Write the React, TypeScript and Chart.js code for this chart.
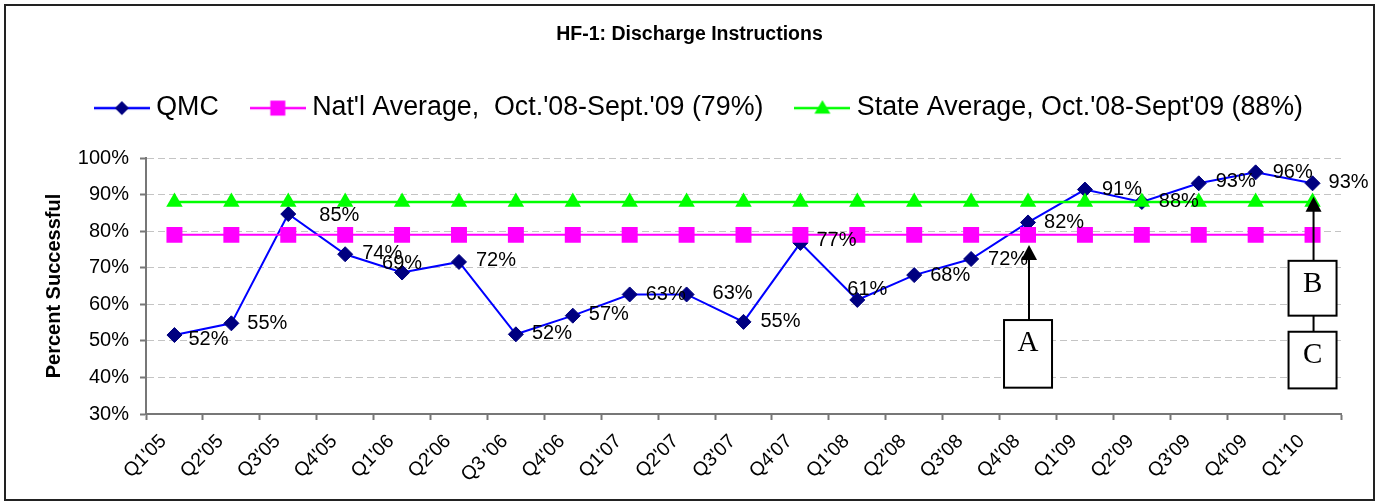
import React, { useEffect, useRef } from 'react';
import { Chart, registerables } from 'chart.js';

Chart.register(...registerables);

const FONT = "'Liberation Sans', Arial, Helvetica, sans-serif";
const SERIF = "'Liberation Serif', 'Times New Roman', serif";

const CATEGORIES = [
  "Q1'05", "Q2'05", "Q3'05", "Q4'05", "Q1'06", "Q2'06", "Q3 '06", "Q4'06",
  "Q1'07", "Q2'07", "Q3'07", "Q4'07", "Q1'08", "Q2'08", "Q3'08", "Q4'08",
  "Q1'09", "Q2'09", "Q3'09", "Q4'09", "Q1'10",
];

const QMC = [
  51.6, 54.8, 84.7, 73.7, 68.7, 71.6, 51.8, 56.9, 62.7, 62.7, 55.2,
  76.8, 61.2, 68.0, 72.4, 82.4, 91.4, 88.0, 93.1, 96.1, 93.1,
];
const NATL_AVG = [79, 79, 79, 79, 79, 79, 79, 79, 79, 79, 79, 79, 79, 79, 79, 79, 79, 79, 79, 79, 79];
const STATE_AVG = [88, 88, 88, 88, 88, 88, 88, 88, 88, 88, 88, 88, 88, 88, 88, 88, 88, 88, 88, 88, 88];

const SERIES_LABELS = [
  'QMC',
  "Nat'l Average,  Oct.'08-Sept.'09 (79%)",
  "State Average, Oct.'08-Sept'09 (88%)",
];

const Y_TICKS = [30, 40, 50, 60, 70, 80, 90, 100];

// label nudges (px) relative to each QMC point
const LABEL_NUDGE = [
  [14, 4], [16, 0], [31, 1], [17, -1], [-20, -9], [17, -1], [16, -1], [16, -1],
  [16, 0], [26, -1], [17, 0], [16, -2], [-10, -10], [16, 0], [17, 0], [16, 0],
  [17, 0], [17, 0], [17, -2], [17, 0], [16, -1],
];

// annotation arrows and boxes (in category index / percent units)
const ARROWS = [
  { index: 15, tip: 76.2, base: 55.7 },
  { index: 20, tip: 89.4, base: 71.9 },
];
const BOXES = [
  { letter: 'A', index: 15, top: 55.7, bottom: 37.2 },
  { letter: 'B', index: 20, top: 71.9, bottom: 56.9 },
  { letter: 'C', index: 20, top: 52.5, bottom: 37.0 },
];
const CONNECTORS = [{ index: 20, from: 56.9, to: 52.5 }];

function makeIcon(lineColor: string, markColor: string, shape: string) {
  const c = document.createElement('canvas');
  c.width = 56;
  c.height = 24;
  const g = c.getContext('2d')!;
  g.strokeStyle = lineColor;
  g.lineWidth = 2.5;
  g.beginPath();
  g.moveTo(0, 12);
  g.lineTo(56, 12);
  g.stroke();
  g.fillStyle = markColor;
  g.beginPath();
  if (shape === 'diamond') {
    g.moveTo(21, 12); g.lineTo(28, 5); g.lineTo(35, 12); g.lineTo(28, 19);
  } else if (shape === 'square') {
    g.rect(20.5, 4.5, 15, 15);
  } else {
    g.moveTo(28, 4); g.lineTo(36, 17.5); g.lineTo(20, 17.5);
  }
  g.closePath();
  g.fill();
  return c;
}

const backgroundPlugin = {
  id: 'bgFrame',
  beforeDraw(chart: any) {
    const ctx = chart.ctx;
    ctx.save();
    ctx.fillStyle = '#fff';
    ctx.fillRect(0, 0, chart.width, chart.height);
    ctx.strokeStyle = '#222';
    ctx.lineWidth = 2;
    ctx.strokeRect(5, 5, chart.width - 9, chart.height - 8);
    ctx.restore();
  },
};

const labelPlugin = {
  id: 'qmcLabels',
  afterDatasetsDraw(chart: any) {
    const meta = chart.getDatasetMeta(0);
    const ctx = chart.ctx;
    ctx.save();
    ctx.font = `20px ${FONT}`;
    ctx.fillStyle = '#000';
    ctx.textAlign = 'left';
    ctx.textBaseline = 'middle';
    meta.data.forEach((pt: any, i: number) => {
      const [dx, dy] = LABEL_NUDGE[i];
      ctx.fillText(`${Math.round(QMC[i])}%`, pt.x + dx, pt.y + dy);
    });
    ctx.restore();
  },
};

const annotationPlugin = {
  id: 'boxes',
  afterDatasetsDraw(chart: any) {
    const ctx = chart.ctx;
    const xs = chart.scales.x;
    const ys = chart.scales.y;
    ctx.save();
    ctx.strokeStyle = '#000';
    ctx.fillStyle = '#000';
    ctx.lineWidth = 2;
    ARROWS.forEach((a) => {
      const x = xs.getPixelForValue(a.index) + 1;
      const tip = ys.getPixelForValue(a.tip);
      const base = ys.getPixelForValue(a.base);
      ctx.beginPath();
      ctx.moveTo(x, base);
      ctx.lineTo(x, tip + 14);
      ctx.stroke();
      ctx.beginPath();
      ctx.moveTo(x, tip);
      ctx.lineTo(x + 8, tip + 15);
      ctx.lineTo(x - 8, tip + 15);
      ctx.closePath();
      ctx.fill();
    });
    CONNECTORS.forEach((c) => {
      const x = xs.getPixelForValue(c.index) + 1;
      ctx.beginPath();
      ctx.moveTo(x, ys.getPixelForValue(c.from));
      ctx.lineTo(x, ys.getPixelForValue(c.to));
      ctx.stroke();
    });
    BOXES.forEach((b) => {
      const cx = xs.getPixelForValue(b.index);
      const top = ys.getPixelForValue(b.top);
      const bottom = ys.getPixelForValue(b.bottom);
      ctx.fillStyle = '#fff';
      ctx.fillRect(cx - 24, top, 48, bottom - top);
      ctx.strokeRect(cx - 24, top, 48, bottom - top);
      ctx.fillStyle = '#000';
      ctx.font = `29px ${SERIF}`;
      ctx.textAlign = 'center';
      ctx.textBaseline = 'alphabetic';
      ctx.fillText(b.letter, cx, top + 31);
    });
    ctx.restore();
  },
};

export default function App() {
  const ref = useRef<HTMLCanvasElement | null>(null);

  useEffect(() => {
    const canvas = ref.current;
    if (!canvas) return;
    const icons = [
      makeIcon('#0000FF', '#000080', 'diamond'),
      makeIcon('#FF00FF', '#FF00FF', 'square'),
      makeIcon('#00FF00', '#00FF00', 'triangle'),
    ];
    const chart = new Chart(canvas, {
      type: 'line',
      data: {
        labels: CATEGORIES,
        datasets: [
          {
            label: SERIES_LABELS[0],
            data: QMC,
            borderColor: '#0000FF',
            borderWidth: 2,
            pointStyle: 'rectRot',
            pointRadius: 7.5,
            pointBackgroundColor: '#000080',
            pointBorderColor: '#000080',
            pointBorderWidth: 1,
            tension: 0,
            order: 3,
          },
          {
            label: SERIES_LABELS[1],
            data: NATL_AVG,
            borderColor: '#FF00FF',
            borderWidth: 2,
            pointStyle: 'rect',
            pointRadius: 11.3,
            pointBackgroundColor: '#FF00FF',
            pointBorderColor: '#FF00FF',
            pointBorderWidth: 0,
            tension: 0,
            order: 2,
          },
          {
            label: SERIES_LABELS[2],
            data: STATE_AVG,
            borderColor: '#00FF00',
            borderWidth: 2.5,
            pointStyle: 'triangle',
            pointRadius: 9.5,
            pointBackgroundColor: '#00FF00',
            pointBorderColor: '#00FF00',
            pointBorderWidth: 0,
            tension: 0,
            order: 1,
          },
        ],
      },
      options: {
        animation: false,
        responsive: false,
        devicePixelRatio: 1,
        events: [],
        layout: { padding: { left: 38, right: 37, top: 0, bottom: 0 } },
        plugins: {
          tooltip: { enabled: false },
          title: {
            display: true,
            text: 'HF-1: Discharge Instructions',
            color: '#000',
            font: { family: FONT, size: 19.5, weight: 'bold' },
            padding: { top: 23.3, bottom: 10 },
          },
          legend: {
            display: true,
            position: 'top',
            align: 'end',
            labels: {
              color: '#000',
              font: { family: FONT, size: 26.8 },
              usePointStyle: true,
              pointStyleWidth: 42,
              padding: 38,
              generateLabels: (ch: any) =>
                ch.data.datasets.map((ds: any, i: number) => ({
                  text: ds.label,
                  pointStyle: icons[i],
                  datasetIndex: i,
                  fillStyle: 'transparent',
                  strokeStyle: 'transparent',
                  lineWidth: 0,
                  hidden: false,
                  fontColor: '#000',
                })),
            },
          },
        },
        scales: {
          x: {
            type: 'category',
            position: 'bottom',
            offset: true,
            grid: {
              display: true,
              offset: true,
              drawOnChartArea: false,
              drawTicks: true,
              tickLength: 6,
              tickColor: '#777',
              tickWidth: 2,
            },
            border: { display: true, color: '#777', width: 2 },
            ticks: {
              color: '#000',
              font: { family: FONT, size: 19.5 },
              maxRotation: 45,
              minRotation: 45,
              autoSkip: false,
              padding: 10,
              labelOffset: -11,
            },
            afterFit: (s: any) => { s.height = 89; },
          },
          x2: {
            type: 'category',
            position: 'top',
            labels: CATEGORIES,
            display: true,
            grid: { display: false, drawTicks: false },
            border: { display: false },
            ticks: { display: false },
            afterFit: (s: any) => { s.height = 26.6; },
          },
          y: {
            type: 'linear',
            min: 30,
            max: 100,
            afterBuildTicks: (s: any) => { s.ticks = Y_TICKS.map((v) => ({ value: v })); },
            grid: {
              color: '#c4c4c4',
              lineWidth: 1,
              tickColor: '#777',
              tickWidth: 2,
              tickLength: 6,
              tickBorderDash: [],
            },
            border: { display: true, color: '#777', width: 2, dash: [7, 4] },
            ticks: {
              color: '#000',
              font: { family: FONT, size: 20 },
              padding: 11,
              callback: (v: any) => `${v}%`,
            },
            title: {
              display: true,
              text: 'Percent Successful',
              color: '#000',
              font: { family: FONT, size: 20, weight: 'bold' },
              padding: { top: 4, bottom: 4 },
            },
            afterFit: (s: any) => { s.width = 108; },
          },
        },
      },
      plugins: [backgroundPlugin, labelPlugin, annotationPlugin],
    } as any);
    return () => chart.destroy();
  }, []);

  return (
    <div style={{ position: 'fixed', left: 0, top: 0, width: 1378, height: 503, background: '#fff' }}>
      <canvas ref={ref} width={1378} height={503} style={{ width: 1378, height: 503, display: 'block' }} />
    </div>
  );
}
